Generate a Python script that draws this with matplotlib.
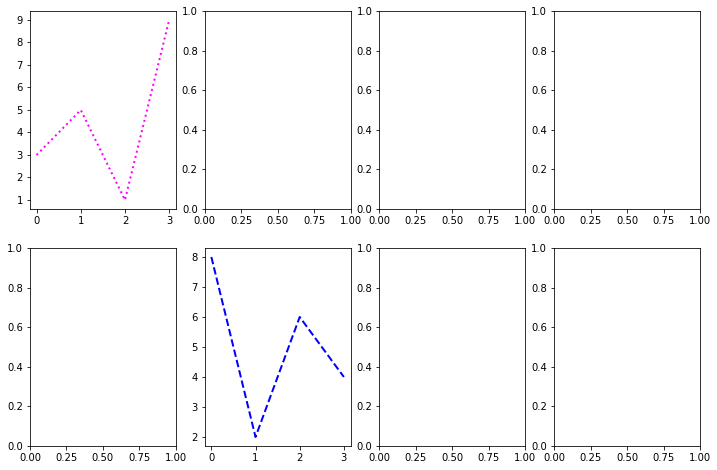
import matplotlib
matplotlib.use("Agg")
import matplotlib.pyplot as plt

x_vals = [0, 1, 2, 3]
top_series = [3, 5, 1, 9]
bottom_series = [8, 2, 6, 4]

s = 0.72  # original rendered at 72 dpi
plt.rcParams.update({
    "font.size": 10 * s,
    "axes.linewidth": 0.8 * s,
    "xtick.major.size": 3.5 * s,
    "ytick.major.size": 3.5 * s,
    "xtick.major.width": 0.8 * s,
    "ytick.major.width": 0.8 * s,
    "xtick.major.pad": 3.5 * s,
    "ytick.major.pad": 3.5 * s,
})

fig, axes = plt.subplots(2, 4, figsize=(7.17, 4.70), dpi=100)
fig.subplots_adjust(left=0.0418, right=0.9763, top=0.9766, bottom=0.0511,
                    wspace=0.1986, hspace=0.197)

axes[0, 0].plot(x_vals, top_series, color="magenta", linestyle=":", linewidth=2 * s)
axes[1, 1].plot(x_vals, bottom_series, color="blue", linestyle="--", linewidth=2 * s)

fig.savefig("out.png", dpi=100)
